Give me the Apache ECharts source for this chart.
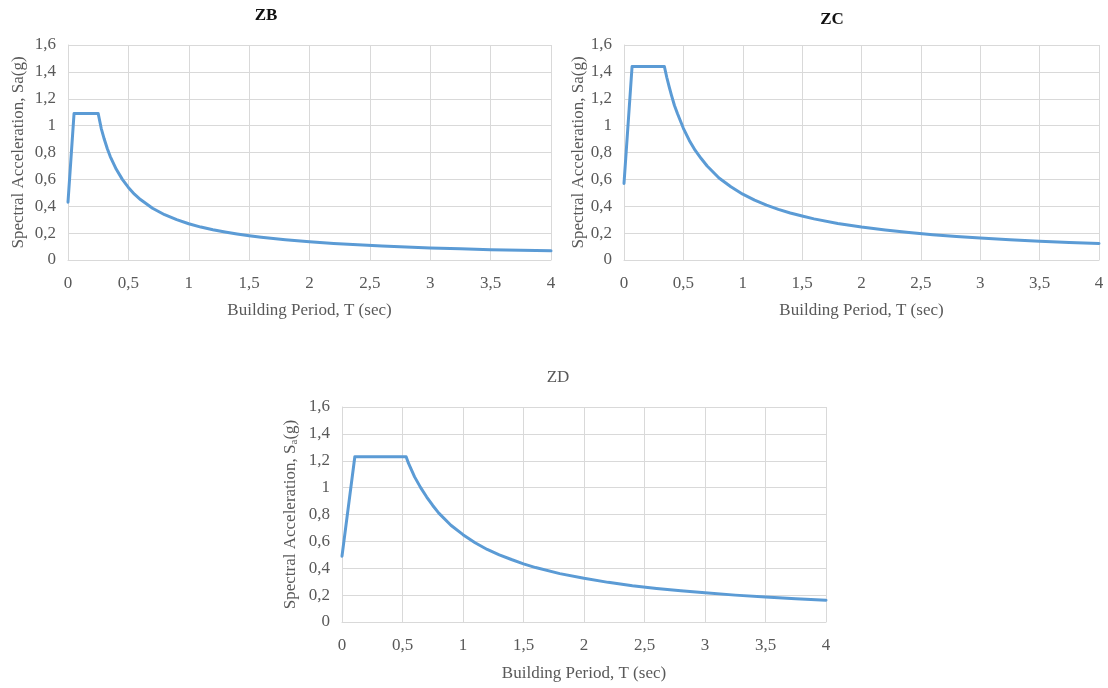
<!DOCTYPE html>
<html>
<head>
<meta charset="utf-8">
<script src="https://cdn.jsdelivr.net/npm/echarts@6/dist/echarts.min.js"></script>
<style>html,body{margin:0;padding:0;background:#fff}#c{width:1108px;height:688px}</style>
</head>
<body>
<div id="c"></div>
<script>
// ---- data ----
const periodZB = [0, 0.05, 0.25, 0.275, 0.3, 0.325, 0.35, 0.4, 0.45, 0.5, 0.55, 0.6, 0.7, 0.8, 0.9, 1.0, 1.1, 1.2, 1.3, 1.4, 1.5, 1.6, 1.8, 2.0, 2.2, 2.4, 2.6, 2.8, 3.0, 3.25, 3.5, 3.75, 4.0];
const saZB     = [0.43, 1.09, 1.09, 0.98, 0.90, 0.83, 0.77, 0.675, 0.60, 0.54, 0.49, 0.45, 0.385, 0.337, 0.30, 0.27, 0.245, 0.225, 0.208, 0.193, 0.18, 0.169, 0.15, 0.135, 0.123, 0.113, 0.104, 0.096, 0.09, 0.083, 0.077, 0.072, 0.068];

const periodZC = [0, 0.068, 0.34, 0.36, 0.38, 0.4, 0.425, 0.45, 0.5, 0.55, 0.6, 0.65, 0.7, 0.8, 0.9, 1.0, 1.1, 1.2, 1.3, 1.4, 1.5, 1.6, 1.8, 2.0, 2.2, 2.4, 2.6, 2.8, 3.0, 3.25, 3.5, 3.75, 4.0];
const saZC     = [0.57, 1.44, 1.44, 1.36, 1.29, 1.225, 1.15, 1.09, 0.98, 0.89, 0.815, 0.755, 0.70, 0.61, 0.545, 0.49, 0.445, 0.408, 0.377, 0.35, 0.327, 0.306, 0.272, 0.245, 0.223, 0.204, 0.188, 0.175, 0.163, 0.151, 0.14, 0.131, 0.123];

const periodZD = [0, 0.106, 0.53, 0.55, 0.575, 0.6, 0.65, 0.7, 0.75, 0.8, 0.9, 1.0, 1.1, 1.2, 1.3, 1.4, 1.5, 1.6, 1.8, 2.0, 2.2, 2.4, 2.6, 2.8, 3.0, 3.25, 3.5, 3.75, 4.0];
const saZD     = [0.49, 1.23, 1.23, 1.18, 1.13, 1.08, 1.0, 0.93, 0.867, 0.81, 0.72, 0.65, 0.59, 0.54, 0.5, 0.465, 0.433, 0.405, 0.36, 0.325, 0.295, 0.27, 0.25, 0.232, 0.217, 0.2, 0.186, 0.173, 0.162];

const titles = ['ZB', 'ZC', 'ZD'];
const xName = 'Building Period, T (sec)';
const yNames = ['Spectral Acceleration, Sa(g)', 'Spectral Acceleration, Sa(g)', 'Spectral Acceleration, S{sub|a}(g)'];

// ---- chart ----
const FONT = "'Liberation Serif', 'DejaVu Serif', serif";
const TXT = '#595959';
const GRIDC = '#d9d9d9';
const FS = 17;
const grids = [
  {left: 68, top: 45, width: 483, height: 215},
  {left: 624, top: 45, width: 475, height: 215},
  {left: 342, top: 407, width: 484, height: 215}
];
const titlePos = [
  {x: 261, y: 2, bold: true},
  {x: 827, y: 6, bold: true},
  {x: 553, y: 364, bold: false}
];
const xGap = [42, 42, 43];
const yGap = [41, 37, 42];
const comma = v => String(v).replace('.', ',');
const series = [[periodZB, saZB], [periodZC, saZC], [periodZD, saZD]];

const option = {
  animation: false,
  title: titles.map((t, i) => ({
    text: t, left: titlePos[i].x, top: titlePos[i].y, textAlign: 'center',
    textStyle: {fontFamily: FONT, fontSize: 17, fontWeight: titlePos[i].bold ? 'bold' : 'normal',
      color: titlePos[i].bold ? '#111' : TXT}
  })),
  grid: grids,
  xAxis: grids.map((g, i) => ({
    type: 'value', gridIndex: i, min: 0, max: 4, interval: 0.5,
    name: xName, nameLocation: 'middle', nameGap: xGap[i],
    nameTextStyle: {fontFamily: FONT, fontSize: FS, color: TXT},
    axisLine: {show: true, lineStyle: {color: GRIDC}},
    axisTick: {show: false},
    axisLabel: {fontFamily: FONT, fontSize: FS, color: TXT, margin: 15, formatter: comma},
    splitLine: {show: true, lineStyle: {color: GRIDC, width: 1}}
  })),
  yAxis: grids.map((g, i) => ({
    type: 'value', gridIndex: i, min: 0, max: 1.6, interval: 0.2,
    name: yNames[i], nameLocation: 'middle', nameGap: yGap[i],
    nameTextStyle: {fontFamily: FONT, fontSize: FS, color: TXT,
      rich: {sub: {fontFamily: FONT, fontSize: 11, color: TXT, verticalAlign: 'bottom', padding: [7, 0, 0, 0]}}},
    axisLine: {show: true, lineStyle: {color: GRIDC}},
    axisTick: {show: false},
    axisLabel: {fontFamily: FONT, fontSize: FS, color: TXT, margin: 12, formatter: comma},
    splitLine: {show: true, lineStyle: {color: GRIDC, width: 1}}
  })),
  series: series.map((s, i) => ({
    type: 'line', xAxisIndex: i, yAxisIndex: i,
    data: s[0].map((t, k) => [t, s[1][k]]),
    showSymbol: false, smooth: false,
    lineStyle: {color: '#5b9bd5', width: 3, join: 'round', cap: 'round'},
    itemStyle: {color: '#5b9bd5'}
  }))
};
echarts.init(document.getElementById('c'), null, {renderer: 'canvas'}).setOption(option);
</script>
</body>
</html>
